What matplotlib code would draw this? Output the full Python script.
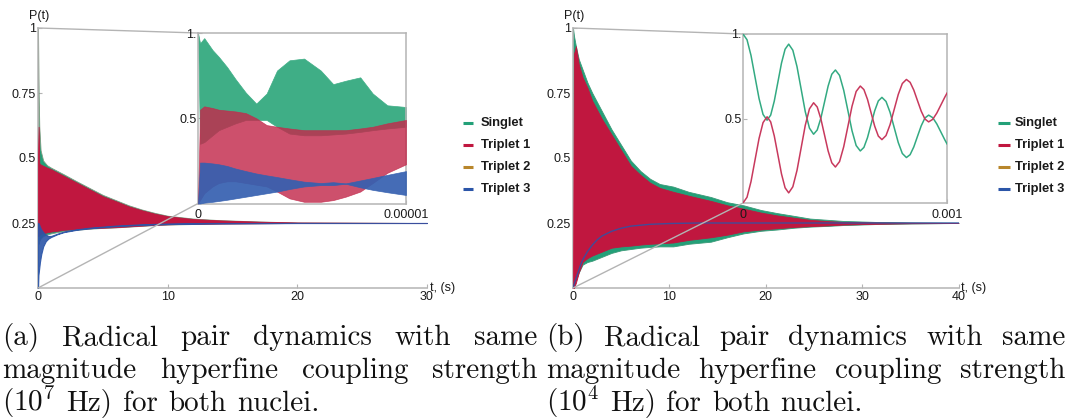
import numpy as np
import matplotlib
matplotlib.use("Agg")
import matplotlib.pyplot as plt
from matplotlib.lines import Line2D

plt.rcParams['font.family'] = ['Liberation Sans', 'DejaVu Sans']
plt.rcParams['mathtext.fontset'] = 'cm'

# ---------------- data ----------------
series_names = ["Singlet", "Triplet 1", "Triplet 2", "Triplet 3"]
series_colors = ["#23a078", "#c0173f", "#b8862b", "#2b55a8"]

# panel (a) main: envelopes of the dense oscillations, t in s
a_t = [0, 0.05, 0.1, 0.2, 0.4, 0.7, 1, 1.5, 2, 3, 4, 5, 6, 7, 8, 9, 10, 12, 14, 17, 20, 25, 30]
a_s_hi = [1.0, 0.75, 0.62, 0.53, 0.49, 0.472, 0.463, 0.45, 0.437, 0.41, 0.384, 0.358, 0.338, 0.318,
          0.302, 0.289, 0.278, 0.267, 0.261, 0.256, 0.252, 0.251, 0.25]
a_s_lo = [0.30, 0.17, 0.18, 0.19, 0.20, 0.206, 0.21, 0.215, 0.219, 0.224, 0.228, 0.231, 0.233, 0.236,
          0.239, 0.242, 0.244, 0.246, 0.248, 0.249, 0.25, 0.25, 0.25]
a_t1_hi = [0.50, 0.62, 0.48, 0.475, 0.47, 0.463, 0.457, 0.444, 0.431, 0.405, 0.379, 0.353, 0.334, 0.314,
           0.299, 0.286, 0.276, 0.265, 0.26, 0.255, 0.252, 0.251, 0.25]
a_t1_lo = [0.20, 0.20, 0.205, 0.208, 0.211, 0.214, 0.217, 0.22, 0.224, 0.227, 0.23, 0.232, 0.234, 0.237,
           0.24, 0.243, 0.245, 0.247, 0.248, 0.249, 0.25, 0.25, 0.25]
a_t3_t = [0, 0.03, 0.08, 0.15, 0.25, 0.4, 0.6, 0.8, 1, 1.5, 2, 3, 4, 6, 8, 10, 13, 16, 20, 25, 30]
a_t3_lo = [0.0, 0.05, 0.07, 0.10, 0.13, 0.16, 0.18, 0.19, 0.196, 0.207, 0.215, 0.224, 0.23, 0.238,
           0.243, 0.246, 0.248, 0.249, 0.25, 0.25, 0.25]
a_t3_hi = [0.25, 0.25, 0.245, 0.235, 0.225, 0.215, 0.205, 0.20, 0.20, 0.209, 0.217, 0.226, 0.232, 0.24,
           0.245, 0.248, 0.25, 0.25, 0.25, 0.25, 0.25]

# panel (a) inset: envelopes, t as fraction of 1e-5 s
ia_f = [0, 0.01, 0.03, 0.07, 0.10, 0.14, 0.18, 0.23, 0.28, 0.33, 0.38, 0.44, 0.51, 0.59, 0.65, 0.71,
        0.78, 0.84, 0.91, 1.0]
ia_s_hi = [1.0, 0.94, 0.97, 0.90, 0.86, 0.80, 0.73, 0.65, 0.586, 0.645, 0.78, 0.84, 0.85, 0.78, 0.70,
           0.72, 0.74, 0.645, 0.576, 0.566]
ia_s_lo = [1.0, 0.35, 0.36, 0.40, 0.43, 0.45, 0.47, 0.49, 0.49, 0.49, 0.45, 0.41, 0.40, 0.40, 0.405,
           0.41, 0.42, 0.43, 0.44, 0.45]
ia_t1_hi = [0.0, 0.55, 0.57, 0.56, 0.55, 0.545, 0.54, 0.53, 0.50, 0.46, 0.45, 0.44, 0.43, 0.43, 0.43,
            0.43, 0.44, 0.45, 0.47, 0.49]
ia_t1_lo = [0.0, 0.02, 0.06, 0.10, 0.12, 0.13, 0.13, 0.12, 0.11, 0.10, 0.07, 0.03, 0.01, 0.01, 0.02,
            0.04, 0.07, 0.12, 0.18, 0.23]
ia_t3_hi = [0.0, 0.24, 0.24, 0.235, 0.23, 0.22, 0.205, 0.19, 0.176, 0.165, 0.155, 0.142, 0.128, 0.12,
            0.125, 0.118, 0.135, 0.150, 0.168, 0.19]
ia_t3_lo = [0.0, 0.0, 0.005, 0.01, 0.015, 0.022, 0.03, 0.04, 0.05, 0.06, 0.07, 0.085, 0.10, 0.108,
            0.108, 0.116, 0.095, 0.080, 0.066, 0.05]

# panel (b) main: envelopes, t in s
b_t = [0, 0.1, 0.3, 0.6, 1, 1.5, 2, 3, 4, 5, 6, 7, 8, 9, 10.4, 12, 14.3, 16, 17.7, 19.5, 21.2, 23,
       24.6, 26.5, 28, 31.5, 35, 40]
b_s_hi = [1.0, 0.97, 0.93, 0.88, 0.84, 0.79, 0.75, 0.68, 0.61, 0.55, 0.49, 0.45, 0.42, 0.40, 0.39,
          0.37, 0.35, 0.33, 0.318, 0.30, 0.288, 0.277, 0.267, 0.262, 0.258, 0.254, 0.252, 0.251]
b_s_lo = [1.0, 0.05, 0.03, 0.06, 0.09, 0.10, 0.105, 0.12, 0.135, 0.145, 0.15, 0.155, 0.158, 0.16,
          0.16, 0.17, 0.178, 0.195, 0.21, 0.22, 0.225, 0.232, 0.236, 0.239, 0.242, 0.246, 0.248, 0.25]
b_t1_hi = [0.0, 0.90, 0.93, 0.86, 0.81, 0.77, 0.72, 0.65, 0.59, 0.53, 0.47, 0.435, 0.405, 0.385, 0.37,
           0.355, 0.335, 0.318, 0.305, 0.29, 0.279, 0.27, 0.262, 0.257, 0.254, 0.252, 0.251, 0.25]
b_t1_lo = [0.0, 0.0, 0.02, 0.06, 0.10, 0.115, 0.125, 0.14, 0.155, 0.16, 0.163, 0.167, 0.17, 0.172,
           0.175, 0.185, 0.195, 0.205, 0.218, 0.225, 0.23, 0.235, 0.238, 0.241, 0.244, 0.247, 0.249, 0.25]
b_t3_t = [0, 0.25, 0.5, 0.75, 1, 1.5, 2, 2.5, 3, 4, 5, 6, 8, 10, 13, 16, 20, 30, 40]
b_t3 = [0, 0.03, 0.058, 0.085, 0.108, 0.14, 0.165, 0.185, 0.20, 0.218, 0.23, 0.238, 0.245, 0.248,
        0.25, 0.25, 0.25, 0.25, 0.25]

# panel (b) inset: smooth curves, t in microseconds
ib_t_us = [0, 19.7, 39.3, 59, 78.7, 98.3, 118,
           135.7, 153.3, 171, 188.7, 206.3, 224,
           244.3, 264.7, 285, 305.3, 325.7, 346,
           363.8, 381.7, 399.5, 417.3, 435.2, 453,
           473.3, 493.7, 514, 534.3, 554.7, 575,
           592.7, 610.3, 628, 645.7, 663.3, 681,
           701, 721, 741, 761, 781, 801,
           819.2, 837.3, 855.5, 873.7, 891.8, 910,
           930, 950, 970, 990, 1000]
ib_s = [1.0, 0.966, 0.873, 0.745, 0.618, 0.524, 0.49,
        0.520, 0.603, 0.715, 0.828, 0.910, 0.94,
        0.904, 0.807, 0.674, 0.540, 0.443, 0.407,
        0.432, 0.502, 0.597, 0.692, 0.762, 0.787,
        0.755, 0.667, 0.548, 0.428, 0.340, 0.308,
        0.329, 0.387, 0.467, 0.546, 0.604, 0.625,
        0.601, 0.536, 0.447, 0.358, 0.293, 0.269,
        0.286, 0.332, 0.395, 0.457, 0.503, 0.52,
        0.505, 0.468, 0.42, 0.372, 0.35]
ib_t1 = [0.0, 0.034, 0.127, 0.255, 0.382, 0.476, 0.51,
         0.48, 0.397, 0.285, 0.172, 0.09, 0.06,
         0.096, 0.193, 0.326, 0.46, 0.557, 0.593,
         0.568, 0.498, 0.403, 0.308, 0.238, 0.213,
         0.245, 0.333, 0.452, 0.572, 0.66, 0.692,
         0.671, 0.613, 0.533, 0.454, 0.396, 0.375,
         0.399, 0.464, 0.553, 0.642, 0.707, 0.731,
         0.714, 0.668, 0.605, 0.543, 0.497, 0.48,
         0.495, 0.532, 0.58, 0.628, 0.65]

main_yticks = [0.25, 0.5, 0.75, 1.0]
main_ytick_labels = ["0.25", "0.5", "0.75", "1"]
a_xticks = [0, 10, 20, 30]
b_xticks = [0, 10, 20, 30, 40]
inset_yticks = [0.5, 1.0]
inset_ytick_labels = ["0.5", "1."]
ia_xmax = 1e-5
ib_xmax = 0.001
ia_xlabels = ["0", "0.00001"]
ib_xlabels = ["0", "0.001"]

cap_a = [["(a)", "Radical", "pair", "dynamics", "with", "same"],
         ["magnitude", "hyperfine", "coupling", "strength"],
         [r"$\mathrm{(10^{7}}$", "Hz)", "for", "both", "nuclei."]]
cap_b = [["(b)", "Radical", "pair", "dynamics", "with", "same"],
         ["magnitude", "hyperfine", "coupling", "strength"],
         [r"$\mathrm{(10^{4}}$", "Hz)", "for", "both", "nuclei."]]

# ---------------- figure ----------------
W, H = 1067, 420
fig = plt.figure(figsize=(W / 100, H / 100), dpi=100)
AX = "#b4b4b4"
TXT = "#1a1a1a"
GREEN, RED, GOLD, BLUE = series_colors


def fx(px):
    return px / W


def fy(py):
    return 1 - py / H


def axes_px(left, top, right, bottom, z=1):
    ax = fig.add_axes([fx(left), fy(bottom), (right - left) / W, (bottom - top) / H])
    ax.set_zorder(z)
    return ax


def style_main(ax, xmax, xticks):
    ax.set_xlim(0, xmax)
    ax.set_ylim(0, 1)
    for s in ["top", "right"]:
        ax.spines[s].set_visible(False)
    for s in ["left", "bottom"]:
        ax.spines[s].set_color(AX)
        ax.spines[s].set_linewidth(1.1)
    ax.set_xticks(xticks)
    ax.set_xticklabels([str(v) for v in xticks])
    ax.set_yticks(main_yticks)
    ax.set_yticklabels(main_ytick_labels)
    ax.tick_params(direction="in", length=3, width=0.8, color=AX, labelsize=9,
                   labelcolor=TXT)
    ax.tick_params(axis="y", pad=1.5)
    ax.tick_params(axis="x", pad=2)
    ax.patch.set_alpha(0)


def style_inset(ax, xmax, xlabels):
    ax.set_xlim(0, xmax)
    ax.set_ylim(0, 1)
    for s in ax.spines.values():
        s.set_color(AX)
        s.set_linewidth(1.1)
    ax.set_xticks([0, xmax])
    ax.set_xticklabels(xlabels)
    ax.set_yticks(inset_yticks)
    ax.set_yticklabels(inset_ytick_labels)
    ax.tick_params(direction="in", length=3, width=0.8, color=AX, labelsize=9,
                   labelcolor=TXT)
    ax.tick_params(axis="y", pad=1)
    ax.tick_params(axis="x", pad=4)
    ax.set_facecolor("white")


# ---- panel (a) ----
axa = axes_px(38, 28, 427, 288)
axa.fill_between(a_t, a_s_lo, a_s_hi, facecolor=GREEN, edgecolor="#7f9a80", lw=0.6, zorder=2,
                 clip_on=False)
axa.fill_between(a_t, a_t1_lo, a_t1_hi, color=RED, lw=0.6, zorder=3, clip_on=False)
axa.fill_between(a_t3_t, a_t3_lo, a_t3_hi, color=BLUE, lw=0.8, alpha=0.9, zorder=4, clip_on=False)
style_main(axa, 30, a_xticks)

insa = axes_px(198, 33, 406, 203.5, z=3)
ia_t = np.array(ia_f) * ia_xmax
insa.fill_between(ia_t, ia_s_lo, ia_s_hi, color="#3fae86", lw=0.5, zorder=2)
insa.fill_between(ia_t, ia_t1_lo, ia_t1_hi, color="#c22a4c", lw=0.5, alpha=0.82, zorder=3)
insa.fill_between(ia_t, ia_t3_lo, ia_t3_hi, color="#3560b0", lw=0.5, alpha=0.92, zorder=4)
style_inset(insa, ia_xmax, ia_xlabels)

# ---- panel (b) ----
axb = axes_px(573, 28, 958.5, 288)
axb.fill_between(b_t, b_s_lo, b_s_hi, facecolor=GREEN, edgecolor="#3a9a78", lw=0.6, zorder=2,
                 clip_on=False)
axb.fill_between(b_t, b_t1_lo, b_t1_hi, color=RED, lw=0.6, zorder=3, clip_on=False)
axb.plot(b_t3_t, b_t3, color=BLUE, lw=1.0, alpha=0.85, zorder=4)
style_main(axb, 40, b_xticks)

insb = axes_px(743, 34, 947, 203, z=3)
ib_t = np.array(ib_t_us) * 1e-6
insb.plot(ib_t, ib_s, color="#33aa82", lw=1.1, zorder=3)
insb.plot(ib_t, ib_t1, color="#c8395d", lw=1.1, zorder=3)
style_inset(insb, ib_xmax, ib_xlabels)

# connector lines from main axes origin/top to inset corners
fig.canvas.draw()
inv = fig.transFigure.inverted()
for ax, ins in [(axa, insa), (axb, insb)]:
    for yv in (1.0, 0.0):
        p1 = inv.transform(ax.transData.transform((0, yv)))
        p2 = inv.transform(ins.transAxes.transform((0, yv)))
        fig.add_artist(Line2D([p1[0], p2[0]], [p1[1], p2[1]], transform=fig.transFigure,
                              color=AX, lw=1.0, zorder=2))

# axis labels
for ax, xmax in [(axa, 30), (axb, 40)]:
    ax.annotate("P(t)", xy=(0, 1), xycoords="data", xytext=(1, 4), textcoords="offset points",
                ha="center", va="bottom", fontsize=9, color=TXT, annotation_clip=False)
    ax.annotate("t, (s)", xy=(xmax, 0), xycoords="data", xytext=(2, 0), textcoords="offset points",
                ha="left", va="center", fontsize=9, color=TXT, annotation_clip=False)

# legends
leg_y = [123, 145, 167, 189]
for (lx0, lx1, tx) in [(463, 473, 481), (998, 1010, 1015)]:
    for name, col, y in zip(series_names, series_colors, leg_y):
        fig.add_artist(Line2D([fx(lx0), fx(lx1)], [fy(y), fy(y)], transform=fig.transFigure,
                              color=col, lw=2.2, solid_capstyle="butt"))
        fig.text(fx(tx), fy(y), name, fontsize=9.3, fontweight="bold", color=TXT,
                 ha="left", va="center")

# captions (justified text)
CAP_FS = 21
renderer = fig.canvas.get_renderer()


def put_line(words, x0, x1, ybase, justify):
    ts = [fig.text(0, fy(ybase), w, fontsize=CAP_FS, family="cmr10", va="baseline", ha="left",
                   color="#111111") for w in words]
    ws = [t.get_window_extent(renderer).width for t in ts]
    gap = (x1 - x0 - sum(ws)) / (len(ws) - 1) if justify else CAP_FS * 1.389 * 0.36
    x = x0
    for t, w in zip(ts, ws):
        t.set_x(fx(x))
        x += w + gap


cap_base = [345, 378, 411]
for cap, (x0, x1) in [(cap_a, (2, 537)), (cap_b, (546, 1065))]:
    for i, words in enumerate(cap):
        put_line(words, x0, x1, cap_base[i], justify=(i < 2))

fig.savefig("out.png", dpi=100)
